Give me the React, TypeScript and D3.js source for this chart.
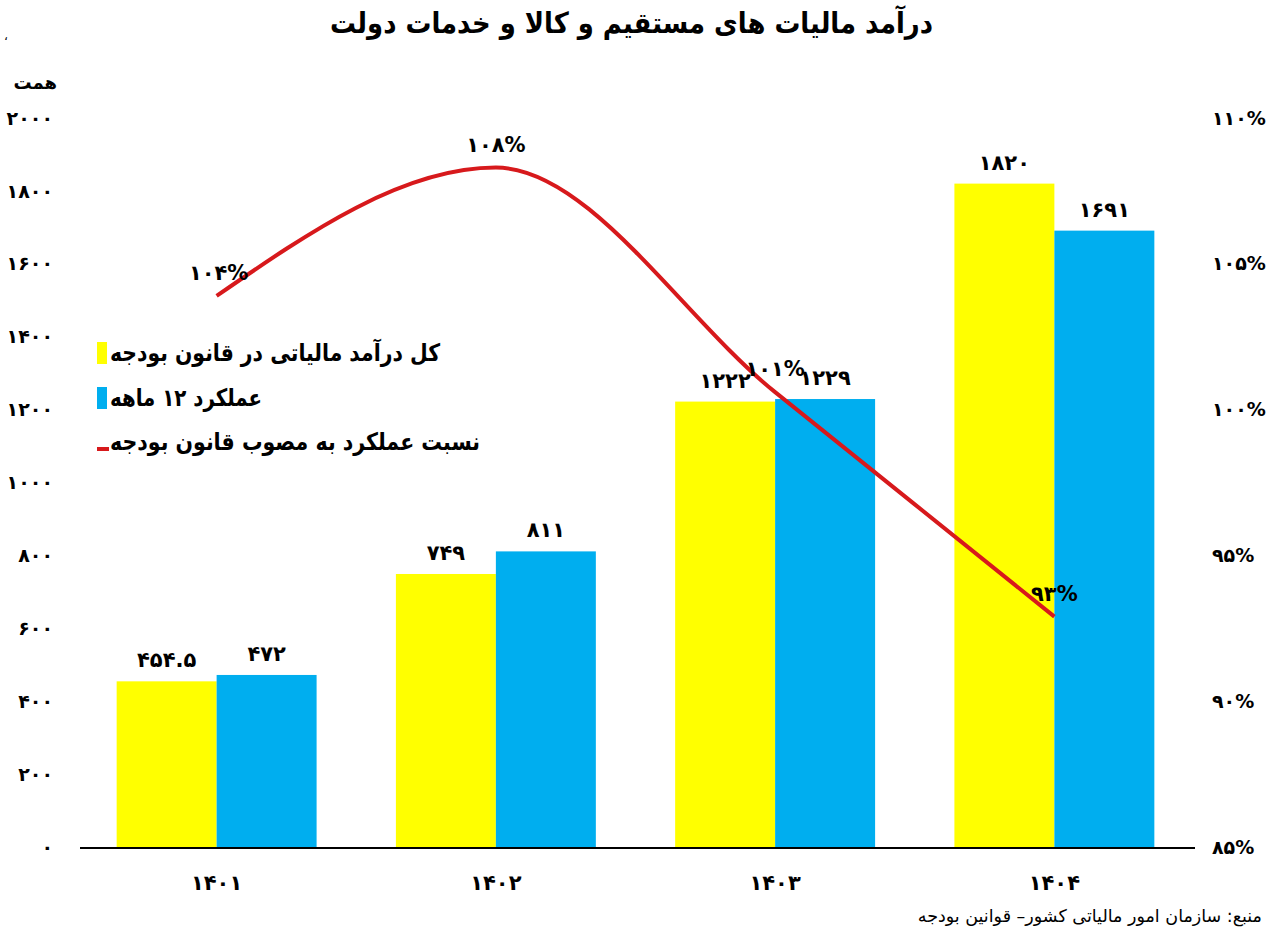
import * as d3 from "d3";
import React, { useEffect, useRef } from "react";

// data
const years = ["۱۴۰۱", "۱۴۰۲", "۱۴۰۳", "۱۴۰۴"];
const budgetLaw = [454.5, 749, 1222, 1820];
const budgetLawLabels = ["۴۵۴.۵", "۷۴۹", "۱۲۲۲", "۱۸۲۰"];
const actual12m = [472, 811, 1229, 1691];
const actual12mLabels = ["۴۷۲", "۸۱۱", "۱۲۲۹", "۱۶۹۱"];
const ratio = [103.9, 108.3, 100.6, 92.9];
const ratioLabels = ["۱۰۴%", "۱۰۸%", "۱۰۱%", "۹۳%"];
const leftTicks = [0, 200, 400, 600, 800, 1000, 1200, 1400, 1600, 1800, 2000];
const rightTicks = [85, 90, 95, 100, 105, 110];
const seriesNames = ["کل درآمد مالیاتی در قانون بودجه", "عملکرد ۱۲ ماهه", "نسبت عملکرد به مصوب قانون بودجه"];
const legendWidths = [330, 152, 370];

const toFa = (s: string) => s.replace(/\d/g, (d) => "۰۱۲۳۴۵۶۷۸۹"[+d]);

const FONT = "'DejaVu Sans', sans-serif";
const YELLOW = "#FFFF00";
const BLUE = "#00AEEF";
const RED = "#D7191C";

export default function App() {
  const svgRef = useRef<SVGSVGElement>(null);

  useEffect(() => {
    const svg = d3.select(svgRef.current);
    svg.selectAll("*").remove();

    const width = 1267;
    const height = 930;
    const left = 77, right = 1194, top = 118, bottom = 847;

    const x0 = d3.scaleBand<string>()
      .domain(years)
      .range([left, right])
      .paddingInner(0.284)
      .paddingOuter(0.142);

    const x1 = d3.scaleBand<string>()
      .domain(["a", "b"])
      .range([0, x0.bandwidth()]);

    const y = d3.scaleLinear().domain([0, 2000]).range([bottom, top]);
    const yr = d3.scaleLinear().domain([85, 110]).range([bottom, top]);

    svg.append("rect").attr("width", width).attr("height", height).attr("fill", "#fff");

    // Title
    svg.append("text")
      .attr("x", 330)
      .attr("y", 33)
      .attr("text-anchor", "start")
      .attr("textLength", 603)
      .attr("lengthAdjust", "spacingAndGlyphs")
      .style("font-family", FONT)
      .style("font-size", "29px")
      .style("font-weight", "bold")
      .text("درآمد مالیات های مستقیم و کالا و خدمات دولت");

    svg.append("text")
      .attr("x", 4).attr("y", 40)
      .style("font-family", FONT).style("font-size", "12px")
      .text("،");

    // unit
    svg.append("text")
      .attr("x", 57).attr("y", 89)
      .attr("text-anchor", "end")
      .style("font-family", FONT).style("font-size", "18px").style("font-weight", "bold")
      .text("همت");

    // left axis labels
    svg.append("g").selectAll("text")
      .data(leftTicks)
      .join("text")
      .attr("x", 53)
      .attr("y", (d) => y(d))
      .attr("dy", "0.35em")
      .attr("text-anchor", "end")
      .style("font-family", FONT).style("font-size", "19px").style("font-weight", "bold")
      .text((d) => toFa(String(d)));

    // right axis labels
    svg.append("g").selectAll("text")
      .data(rightTicks)
      .join("text")
      .attr("x", 1212)
      .attr("y", (d) => yr(d))
      .attr("dy", "0.35em")
      .attr("text-anchor", "start")
      .style("font-family", FONT).style("font-size", "19px").style("font-weight", "bold")
      .text((d) => toFa(String(d)) + "%");

    // bars
    const g = svg.append("g");
    years.forEach((yr0, i) => {
      const bx = x0(yr0)!;
      g.append("rect")
        .attr("x", bx + x1("a")!)
        .attr("y", y(budgetLaw[i]))
        .attr("width", x1.bandwidth())
        .attr("height", y(0) - y(budgetLaw[i]))
        .attr("fill", YELLOW);
      g.append("rect")
        .attr("x", bx + x1("b")!)
        .attr("y", y(actual12m[i]))
        .attr("width", x1.bandwidth())
        .attr("height", y(0) - y(actual12m[i]))
        .attr("fill", BLUE);
      g.append("text")
        .attr("x", bx + x1("a")! + x1.bandwidth() / 2)
        .attr("y", y(budgetLaw[i]) - 14)
        .attr("text-anchor", "middle")
        .style("font-family", FONT).style("font-size", "21px").style("font-weight", "bold")
        .text(budgetLawLabels[i]);
      g.append("text")
        .attr("x", bx + x1("b")! + x1.bandwidth() / 2)
        .attr("y", y(actual12m[i]) - 14)
        .attr("text-anchor", "middle")
        .style("font-family", FONT).style("font-size", "21px").style("font-weight", "bold")
        .text(actual12mLabels[i]);
    });

    // x axis
    svg.append("line")
      .attr("x1", left + 3).attr("x2", right + 1)
      .attr("y1", bottom + 1).attr("y2", bottom + 1)
      .attr("stroke", "#000").attr("stroke-width", 2);

    svg.append("g").selectAll("text")
      .data(years)
      .join("text")
      .attr("x", (d) => x0(d)! + x0.bandwidth() / 2)
      .attr("y", 890)
      .attr("text-anchor", "middle")
      .style("font-family", FONT).style("font-size", "21px").style("font-weight", "bold")
      .text((d) => d);

    // ratio line
    const cx = (i: number) => x0(years[i])! + x0.bandwidth() / 2;
    const line = d3.line<number>()
      .x((_, i) => cx(i))
      .y((d) => yr(d))
      .curve(d3.curveMonotoneX);

    svg.append("path")
      .datum(ratio)
      .attr("fill", "none")
      .attr("stroke", RED)
      .attr("stroke-width", 4)
      .attr("d", line);

    svg.append("g").selectAll("text")
      .data(ratio)
      .join("text")
      .attr("x", (_, i) => cx(i) + (i === 0 ? 2 : 0))
      .attr("y", (d) => yr(d) - 16)
      .attr("text-anchor", "middle")
      .style("font-family", FONT).style("font-size", "21px").style("font-weight", "bold")
      .text((_, i) => ratioLabels[i]);

    // legend
    const lg = svg.append("g");
    const rows = [352, 397, 441];
    rows.forEach((ly, i) => {
      if (i < 2) {
        lg.append("rect")
          .attr("x", 97).attr("y", ly - 10)
          .attr("width", 10).attr("height", 22)
          .attr("fill", i === 0 ? YELLOW : BLUE);
      } else {
        lg.append("rect")
          .attr("x", 97).attr("y", ly + 6)
          .attr("width", 12).attr("height", 4)
          .attr("fill", RED);
      }
      lg.append("text")
        .attr("x", 110)
        .attr("y", ly + 9)
        .attr("text-anchor", "start")
        .attr("textLength", legendWidths[i])
        .attr("lengthAdjust", "spacingAndGlyphs")
        .style("font-family", FONT).style("font-size", "24px").style("font-weight", "bold")
        .text(seriesNames[i]);
    });

    // source
    svg.append("text")
      .attr("x", 1262).attr("y", 922)
      .attr("text-anchor", "end")
      .style("font-family", FONT).style("font-size", "17.5px")
      .text("منبع: سازمان امور مالیاتی کشور– قوانین بودجه");
  }, []);

  return (
    <svg ref={svgRef} width={1267} height={930} style={{ display: "block", position: "absolute", left: 0, top: 0 }} />
  );
}
